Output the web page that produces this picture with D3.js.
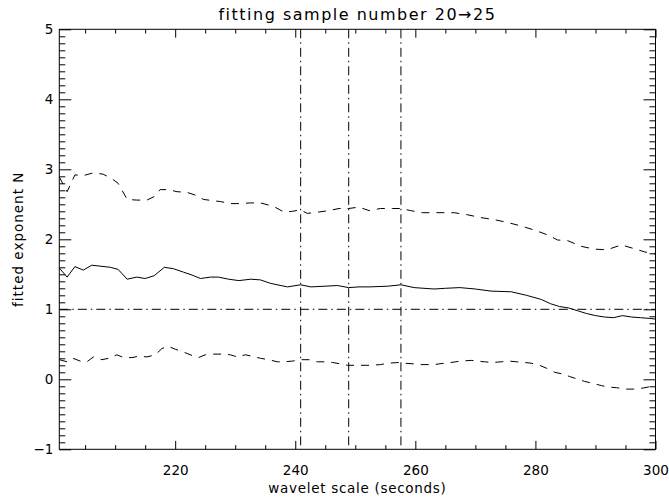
<!DOCTYPE html>
<html>
<head>
<meta charset="utf-8">
<script src="https://cdn.jsdelivr.net/npm/d3@7"></script>
<style>
  body { margin: 0; background: #fff; }
  text { font-family: "DejaVu Sans", sans-serif; fill: #000; }
</style>
</head>
<body>
<script>
// wavelet scale (seconds) and fitted exponent N
const solidX = [200.7, 202.0, 203.3, 204.7, 206.1, 209.2, 210.5, 212.0, 213.6, 215.0, 216.5, 218.2, 219.7, 221.4, 222.8, 224.2, 225.9, 227.2, 228.9, 230.6, 232.6, 234.2, 235.9, 238.7, 240.9, 242.6, 245.0, 247.0, 248.9, 250.6, 252.3, 255.4, 257.6, 259.8, 263.1, 265.0, 267.4, 270.0, 272.6, 276.0, 278.5, 281.0, 282.5, 284.0, 285.5, 287.0, 288.5, 290.0, 291.5, 293.0, 294.5, 296.0, 297.5, 299.0, 300.0];
const solidY = [1.59, 1.46, 1.61, 1.56, 1.63, 1.60, 1.57, 1.43, 1.46, 1.44, 1.48, 1.60, 1.58, 1.53, 1.49, 1.44, 1.46, 1.46, 1.43, 1.41, 1.43, 1.42, 1.37, 1.32, 1.35, 1.32, 1.33, 1.34, 1.31, 1.32, 1.32, 1.33, 1.35, 1.31, 1.29, 1.30, 1.31, 1.29, 1.26, 1.25, 1.20, 1.14, 1.08, 1.04, 1.02, 0.98, 0.94, 0.91, 0.89, 0.88, 0.91, 0.89, 0.88, 0.87, 0.86];

const upperX = [200.7, 202.0, 203.3, 204.7, 206.4, 208.0, 209.4, 210.5, 212.0, 213.6, 215.3, 216.5, 217.5, 218.9, 220.3, 222.0, 223.4, 224.7, 226.4, 227.5, 229.2, 230.9, 232.5, 234.2, 236.4, 238.1, 239.5, 240.9, 242.0, 243.9, 245.6, 247.3, 248.9, 250.6, 252.3, 254.2, 256.2, 257.6, 259.2, 261.2, 263.1, 266.5, 268.7, 270.9, 273.2, 275.4, 277.6, 279.9, 282.1, 283.7, 285.4, 287.6, 289.8, 291.8, 292.6, 294.3, 296.3, 298.2, 300.0];
const upperY = [2.89, 2.68, 2.92, 2.91, 2.95, 2.93, 2.87, 2.80, 2.57, 2.56, 2.56, 2.61, 2.71, 2.71, 2.68, 2.67, 2.63, 2.57, 2.55, 2.54, 2.51, 2.51, 2.52, 2.52, 2.47, 2.39, 2.40, 2.42, 2.37, 2.39, 2.41, 2.44, 2.44, 2.46, 2.41, 2.44, 2.44, 2.44, 2.41, 2.38, 2.38, 2.38, 2.35, 2.31, 2.28, 2.24, 2.19, 2.13, 2.06, 1.99, 1.98, 1.90, 1.86, 1.85, 1.87, 1.92, 1.87, 1.82, 1.79];

const lowerX = [200.7, 202.0, 203.0, 204.2, 205.3, 206.4, 207.8, 208.9, 210.3, 211.4, 212.8, 213.9, 215.3, 216.7, 217.8, 218.9, 220.0, 221.4, 222.5, 223.9, 225.0, 226.4, 227.8, 229.2, 230.3, 231.7, 232.8, 234.2, 235.6, 237.0, 238.1, 239.5, 240.9, 242.3, 243.7, 244.8, 246.2, 247.6, 248.7, 250.1, 250.9, 252.6, 254.2, 255.4, 257.3, 258.1, 259.8, 260.9, 263.1, 264.8, 265.9, 267.6, 269.3, 270.4, 271.5, 272.9, 274.3, 275.7, 276.8, 278.2, 279.3, 280.7, 281.8, 283.2, 284.3, 285.7, 287.1, 288.2, 289.6, 291.0, 292.1, 293.5, 295.1, 296.3, 297.6, 298.8, 300.0];
const lowerY = [0.28, 0.25, 0.30, 0.26, 0.25, 0.32, 0.28, 0.30, 0.35, 0.31, 0.31, 0.33, 0.32, 0.35, 0.44, 0.47, 0.43, 0.39, 0.35, 0.31, 0.35, 0.36, 0.36, 0.35, 0.32, 0.35, 0.33, 0.30, 0.28, 0.25, 0.25, 0.26, 0.28, 0.28, 0.25, 0.25, 0.24, 0.22, 0.20, 0.20, 0.20, 0.20, 0.21, 0.23, 0.24, 0.23, 0.22, 0.21, 0.21, 0.23, 0.24, 0.26, 0.27, 0.26, 0.25, 0.24, 0.25, 0.26, 0.25, 0.24, 0.23, 0.20, 0.16, 0.10, 0.08, 0.04, 0.00, -0.03, -0.06, -0.09, -0.11, -0.12, -0.14, -0.14, -0.13, -0.11, -0.08];

const markerScales = [240.9, 248.9, 257.6];
const referenceN = 1;

const xTicks = [220, 240, 260, 280, 300];
const yTicks = [-1, 0, 1, 2, 3, 4, 5];

const width = 669, height = 499;
const margin = { left: 59.3, right: 13.5, top: 29.3, bottom: 49.7 };
const w = width - margin.left - margin.right;
const h = height - margin.top - margin.bottom;

const svg = d3.select('body').append('svg')
  .attr('width', width)
  .attr('height', height);

const g = svg.append('g')
  .attr('transform', `translate(${margin.left},${margin.top})`);

const x = d3.scaleLinear().domain([200.7, 300]).range([0, w]);
const y = d3.scaleLinear().domain([-1, 5]).range([h, 0]);

const xMinor = d3.range(205, 300, 5).filter(v => xTicks.indexOf(v) < 0);
const yMinor = d3.range(-9, 50).map(v => v / 10).filter(v => !Number.isInteger(v));

const xMajorLen = 8.4, yMajorLen = 12;

function styleAxis(sel) {
  sel.select('.domain').remove();
  sel.selectAll('line').attr('stroke', '#000').attr('stroke-width', 1);
  sel.selectAll('text').style('font-size', '13.5px');
}

// bottom
g.append('g').attr('transform', `translate(0,${h})`)
  .call(d3.axisBottom(x).tickValues(xTicks).tickSize(-xMajorLen).tickPadding(16).tickFormat(d3.format('d')))
  .call(styleAxis);
g.append('g').attr('transform', `translate(0,${h})`)
  .call(d3.axisBottom(x).tickValues(xMinor).tickSize(-xMajorLen / 2).tickFormat(''))
  .call(styleAxis);
// top
g.append('g')
  .call(d3.axisTop(x).tickValues(xTicks).tickSize(-xMajorLen).tickFormat(''))
  .call(styleAxis);
g.append('g')
  .call(d3.axisTop(x).tickValues(xMinor).tickSize(-xMajorLen / 2).tickFormat(''))
  .call(styleAxis);
// left
g.append('g')
  .call(d3.axisLeft(y).tickValues(yTicks).tickSize(-yMajorLen).tickPadding(6).tickFormat(d3.format('d')))
  .call(styleAxis);
g.append('g')
  .call(d3.axisLeft(y).tickValues(yMinor).tickSize(-yMajorLen / 2).tickFormat(''))
  .call(styleAxis);
// right
g.append('g').attr('transform', `translate(${w},0)`)
  .call(d3.axisRight(y).tickValues(yTicks).tickSize(-yMajorLen).tickFormat(''))
  .call(styleAxis);
g.append('g').attr('transform', `translate(${w},0)`)
  .call(d3.axisRight(y).tickValues(yMinor).tickSize(-yMajorLen / 2).tickFormat(''))
  .call(styleAxis);

g.append('rect')
  .attr('width', w).attr('height', h)
  .attr('fill', 'none').attr('stroke', '#000').attr('stroke-width', 1);

const dashDot = '9,4,1.5,4';

g.selectAll('.marker')
  .data(markerScales)
  .enter().append('line')
  .attr('class', 'marker')
  .attr('x1', d => x(d)).attr('x2', d => x(d))
  .attr('y1', 0).attr('y2', h)
  .attr('stroke', '#000').attr('stroke-dasharray', dashDot);

g.append('line')
  .attr('x1', 0).attr('x2', w)
  .attr('y1', y(referenceN)).attr('y2', y(referenceN))
  .attr('stroke', '#000').attr('stroke-dasharray', dashDot);

const line = d3.line().x(d => x(d[0])).y(d => y(d[1]));

const series = [
  { xs: solidX, ys: solidY, dash: null },
  { xs: upperX, ys: upperY, dash: '8,7' },
  { xs: lowerX, ys: lowerY, dash: '8,7' },
];

series.forEach(s => {
  g.append('path')
    .datum(d3.zip(s.xs, s.ys))
    .attr('d', line)
    .attr('fill', 'none')
    .attr('stroke', '#000')
    .attr('stroke-width', 1)
    .attr('stroke-dasharray', s.dash);
});

svg.append('text')
  .attr('x', margin.left + w / 2).attr('y', 20)
  .attr('text-anchor', 'middle')
  .style('font-size', '16px')
  .style('letter-spacing', '1.5px')
  .text('fitting sample number 20\u219225');

svg.append('text')
  .attr('x', margin.left + w / 2).attr('y', 493)
  .attr('text-anchor', 'middle')
  .style('font-size', '13.5px')
  .style('letter-spacing', '0.7px')
  .text('wavelet scale (seconds)');

svg.append('text')
  .attr('transform', `translate(23,${margin.top + h / 2}) rotate(-90)`)
  .attr('text-anchor', 'middle')
  .style('font-size', '13.5px')
  .style('letter-spacing', '1px')
  .text('fitted exponent N');
</script>
</body>
</html>
